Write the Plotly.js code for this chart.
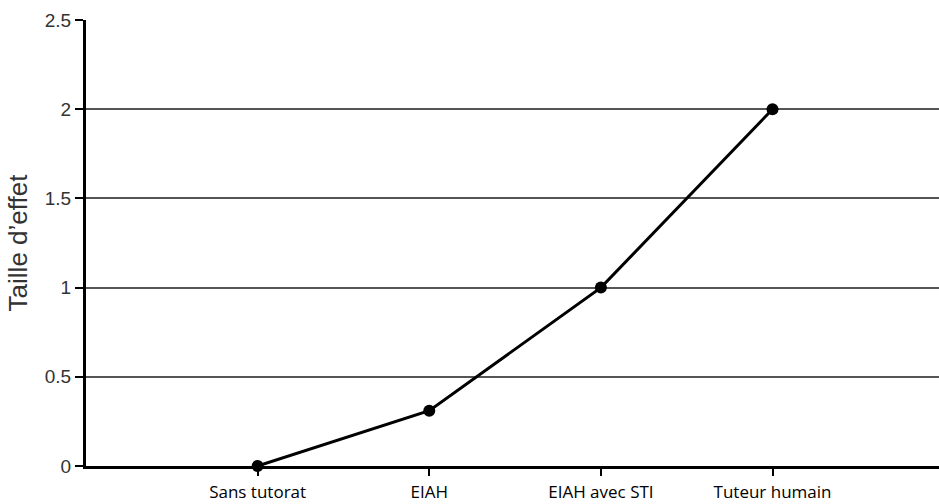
<!DOCTYPE html>
<html>
<head>
<meta charset="utf-8">
<script src="https://cdn.plot.ly/plotly-3.0.1.min.js"></script>
<style>html,body{margin:0;padding:0;background:#fff;}#chart{width:939px;height:504px;}</style>
</head>
<body>
<div id="chart"></div>
<script>
const categories = ["Sans tutorat", "EIAH", "EIAH avec STI", "Tuteur humain"];
const effectSizes = [0, 0.31, 1.0, 2.0];
const yTickValues = [0, 0.5, 1, 1.5, 2, 2.5];
const yTickLabels = ["0", "0.5", "1", "1.5", "2", "2.5"];
const yAxisTitle = "Taille d’effet";

const trace = {
  x: categories.map((c, i) => i),
  y: effectSizes,
  type: "scatter",
  mode: "lines+markers",
  line: {color: "#000", width: 3},
  marker: {color: "#000", size: 12},
  cliponaxis: false,
  hoverinfo: "skip"
};

const layout = {
  width: 939, height: 504,
  margin: {l: 86, r: 0, t: 20, b: 38},
  paper_bgcolor: "#fff", plot_bgcolor: "#fff",
  showlegend: false,
  xaxis: {
    range: [-1, 3.97],
    tickmode: "array",
    tickvals: categories.map((c, i) => i),
    ticktext: categories,
    showgrid: false, zeroline: false,
    showline: true, linecolor: "#000", linewidth: 3,
    ticks: "outside", ticklen: 7, tickwidth: 2, tickcolor: "#000",
    ticklabelstandoff: 2,
    tickfont: {family: "Open Sans, Noto Sans, sans-serif", size: 17, color: "#000"},
    fixedrange: true
  },
  yaxis: {
    range: [0, 2.5],
    tickmode: "array",
    tickvals: yTickValues,
    ticktext: yTickLabels,
    showgrid: true, gridcolor: "#555", gridwidth: 2,
    zeroline: false,
    showline: true, linecolor: "#000", linewidth: 3,
    ticks: "outside", ticklen: 8, tickwidth: 2, tickcolor: "#000",
    tickfont: {family: "Liberation Sans, Arial, sans-serif", size: 19, color: "#333"},
    title: {text: yAxisTitle, font: {family: "Liberation Sans, Arial, sans-serif", size: 26, color: "#333"}, standoff: 10},
    fixedrange: true
  }
};

Plotly.newPlot("chart", [trace], layout, {displayModeBar: false, staticPlot: true});
</script>
</body>
</html>
